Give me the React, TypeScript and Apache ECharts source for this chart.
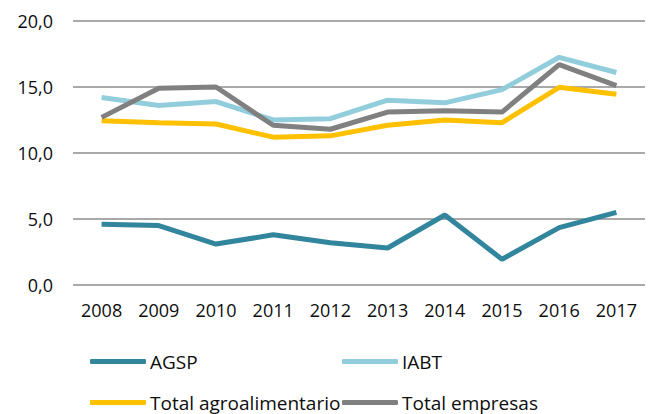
import React, { useEffect, useRef } from "react";
import * as echarts from "echarts";

const years = ["2008", "2009", "2010", "2011", "2012", "2013", "2014", "2015", "2016", "2017"];
const agsp = [4.6, 4.5, 3.1, 3.8, 3.2, 2.8, 5.3, 1.95, 4.35, 5.5];
const iabt = [14.2, 13.6, 13.9, 12.5, 12.6, 14.0, 13.8, 14.8, 17.25, 16.1];
const totalAgro = [12.45, 12.3, 12.2, 11.2, 11.3, 12.1, 12.5, 12.3, 14.98, 14.45];
const totalEmpresas = [12.7, 14.9, 15.0, 12.1, 11.8, 13.1, 13.2, 13.1, 16.7, 15.1];

const seriesNames = ["AGSP", "IABT", "Total agroalimentario", "Total empresas"];
const seriesColors = ["#31859C", "#92CDDC", "#FFC000", "#808080"];
const seriesData = [agsp, iabt, totalAgro, totalEmpresas];

const FONT = "Open Sans";

export default function App() {
  const ref = useRef<HTMLDivElement>(null);
  useEffect(() => {
    if (!ref.current) return;
    const chart = echarts.init(ref.current, undefined, { renderer: "svg" });
    const legendPos = [
      { left: 90, top: 352 },
      { left: 342, top: 352 },
      { left: 90, top: 393 },
      { left: 342, top: 393 },
    ];
    chart.setOption({
      animation: false,
      backgroundColor: "#ffffff",
      grid: { left: 73, right: 8, top: 21, bottom: 129, containLabel: false },
      legend: seriesNames.map((n, i) => ({
        data: [n],
        left: legendPos[i].left,
        top: legendPos[i].top,
        icon: "roundRect",
        itemWidth: 56,
        itemHeight: 5,
        itemGap: 4,
        padding: 0,
        textStyle: { fontFamily: FONT, fontSize: 19, color: "#0d0d0d", padding: [0, 0, 0, -1] },
      })),
      xAxis: {
        type: "category",
        data: years,
        boundaryGap: true,
        axisLine: { show: false },
        axisTick: { show: false },
        axisLabel: { fontFamily: FONT, fontSize: 18, color: "#0d0d0d", margin: 16 },
      },
      yAxis: {
        type: "value",
        min: 0,
        max: 20,
        interval: 5,
        axisLine: { show: false },
        axisTick: { show: false },
        axisLabel: {
          fontFamily: FONT,
          fontSize: 18,
          color: "#0d0d0d",
          margin: 20,
          formatter: (v: number) => v.toFixed(1).replace(".", ","),
        },
        splitLine: { lineStyle: { color: "#8c8c8c", width: 1.5 } },
      },
      series: seriesNames.map((n, i) => ({
        name: n,
        type: "line",
        data: seriesData[i],
        symbol: "none",
        lineStyle: { color: seriesColors[i], width: 5 },
        itemStyle: { color: seriesColors[i] },
        z: i === 3 ? 3 : 2,
      })),
    });
    return () => chart.dispose();
  }, []);
  return (
    <div
      ref={ref}
      style={{ position: "fixed", left: 0, top: 0, width: 653, height: 414 }}
    />
  );
}
